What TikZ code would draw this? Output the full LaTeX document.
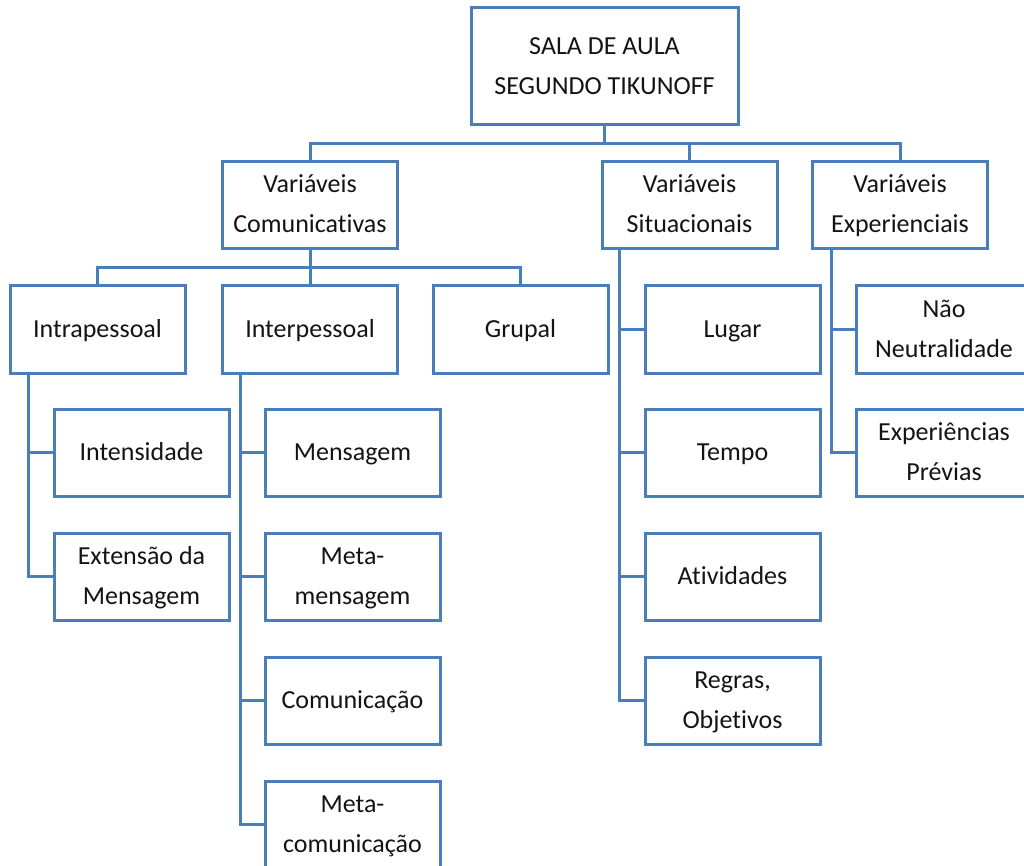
\documentclass[tikz,border=0pt]{standalone}
\usepackage{fontspec}
\setmainfont{Carlito}[Ligatures=NoCommon]
\definecolor{boxblue}{RGB}{74,126,187}
\definecolor{txt}{RGB}{20,20,20}
\newcommand\ls{\rule[-9pt]{0pt}{30pt}}
\tikzset{
  box/.style={draw=boxblue, line width=2.25pt, rectangle, fill=white,
    minimum width=131.25pt, minimum height=65.25pt, inner sep=0pt,
    align=center, text=txt, font=\fontsize{19.5}{30}\selectfont},
  topbox/.style={box, minimum width=200.25pt, minimum height=87.75pt},
  link/.style={draw=boxblue, line width=2.25pt}
}
\begin{document}
\begin{tikzpicture}[x=0.75pt,y=-0.75pt]
\useasboundingbox (0,0) rectangle (1024,866);
\coordinate (b1) at (0,144);
\coordinate (b2) at (0,268);
\coordinate (t1) at (28,0);
\coordinate (t2) at (240,0);
\coordinate (t3) at (619,0);
\coordinate (t4) at (831,0);
% nodes
\node[topbox] (top) at (604.5,66.5) {\ls SALA DE AULA\\\ls SEGUNDO TIKUNOFF};
\node[box] (vc) at (310,205) {\ls Variáveis\\\ls Comunicativas};
\node[box] (vs) at (689.5,205) {\ls Variáveis\\\ls Situacionais};
\node[box] (ve) at (900,205) {\ls Variáveis\\\ls Experienciais};
\node[box] (intra) at (97.5,329.5) {\ls Intrapessoal};
\node[box] (inter) at (310,329.5) {\ls Interpessoal};
\node[box] (grupal) at (520.5,329.5) {\ls Grupal};
\node[box] (intens) at (141.5,452.5) {\ls Intensidade};
\node[box] (ext) at (141.5,576.5) {\ls Extensão da\\\ls Mensagem};
\node[box] (msg) at (352.5,452.5) {\ls Mensagem};
\node[box] (metamsg) at (352.5,576.5) {\ls Meta-\\\ls mensagem};
\node[box] (comun) at (352.5,700.5) {\ls Comunicação};
\node[box] (metacom) at (352.5,824.5) {\ls Meta-\\\ls comunicação};
\node[box] (lugar) at (732.5,329.5) {\ls Lugar};
\node[box] (tempo) at (732.5,452.5) {\ls Tempo};
\node[box] (ativ) at (732.5,576.5) {\ls Atividades};
\node[box] (regras) at (732.5,700.5) {\ls Regras,\\\ls Objetivos};
\node[box] (nao) at (944,329.5) {\ls Não\\\ls Neutralidade};
\node[box] (prev) at (944,452.5) {\ls Experiências\\\ls Prévias};
% level 1
\draw[link] (top.south) -- (top.south |- b1);
\draw[link] (vc.north) |- (b1 -| ve.north) -- (ve.north);
\draw[link] (vs.north) -- (vs.north |- b1);
% level 2
\draw[link] (vc.south) -- (vc.south |- b2);
\draw[link] (intra.north) |- (b2 -| grupal.north) -- (grupal.north);
\draw[link] (inter.north) -- (inter.north |- b2);
% intrapessoal
\draw[link] (t1 |- intra.south) |- (ext.west);
\draw[link] (t1 |- intens.west) -- (intens.west);
% interpessoal
\draw[link] (t2 |- inter.south) |- (metacom.west);
\draw[link] (t2 |- msg.west) -- (msg.west);
\draw[link] (t2 |- metamsg.west) -- (metamsg.west);
\draw[link] (t2 |- comun.west) -- (comun.west);
% situacionais
\draw[link] (t3 |- vs.south) |- (regras.west);
\draw[link] (t3 |- lugar.west) -- (lugar.west);
\draw[link] (t3 |- tempo.west) -- (tempo.west);
\draw[link] (t3 |- ativ.west) -- (ativ.west);
% experienciais
\draw[link] (t4 |- ve.south) |- (prev.west);
\draw[link] (t4 |- nao.west) -- (nao.west);
\end{tikzpicture}
\end{document}
